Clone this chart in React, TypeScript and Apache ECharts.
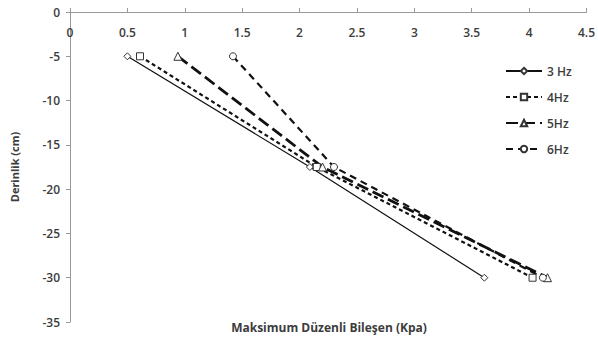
import React, { useEffect, useRef } from "react";
import * as echarts from "echarts";

const depths = [-5, -17.5, -30];
const hz3 = [0.5, 2.09, 3.61];
const hz4 = [0.61, 2.15, 4.03];
const hz5 = [0.94, 2.2, 4.16];
const hz6 = [1.42, 2.3, 4.12];
const seriesNames = ["3 Hz", "4Hz", "5Hz", "6Hz"];
const xTitle = "Maksimum Düzenli Bileşen (Kpa)";
const yTitle = "Derinlik (cm)";

const pair = (xs: number[]) => xs.map((x, i) => [x, depths[i]]);

export default function App() {
  const ref = useRef<HTMLDivElement>(null);
  useEffect(() => {
    if (!ref.current) return;
    const chart = echarts.init(ref.current, undefined, { renderer: "svg" });
    const font = "'Open Sans', 'Liberation Sans', sans-serif";
    const txt = "#3c3c3c";
    const mk = (name: string, data: number[], symbol: string, type: any, width: number) => ({
      name,
      type: "line",
      data: pair(data),
      symbol,
      symbolSize: symbol === "triangle" ? 8 : 7,
      showSymbol: true,
      lineStyle: { color: "#111", width, type },
      itemStyle: { color: "#fff", borderColor: "#333", borderWidth: 1 },
    });
    chart.setOption({
      animation: false,
      backgroundColor: "#fff",
      grid: { left: 70, right: 10, top: 12, bottom: 26 },
      legend: {
        orient: "vertical",
        left: 500,
        top: 60,
        itemWidth: 36,
        itemHeight: 8,
        itemGap: 14,
        data: seriesNames,
        textStyle: { color: txt, fontFamily: font, fontSize: 12, fontWeight: 600 },
      },
      xAxis: {
        type: "value",
        position: "top",
        min: 0,
        max: 4.5,
        interval: 0.5,
        splitLine: { show: false },
        axisLine: { lineStyle: { color: "#999" } },
        axisTick: { show: true, length: 4, lineStyle: { color: "#999" } },
        axisLabel: { inside: true, margin: 14, color: txt, fontFamily: font, fontSize: 12, fontWeight: 600 },
      },
      yAxis: {
        type: "value",
        min: -35,
        max: 0,
        interval: 5,
        name: yTitle,
        nameLocation: "middle",
        nameRotate: 90,
        nameGap: 50,
        nameTextStyle: { color: txt, fontFamily: font, fontSize: 11, fontWeight: "bold" },
        splitLine: { show: false },
        axisLine: { show: true, lineStyle: { color: "#999" } },
        axisTick: { show: true, length: 4, lineStyle: { color: "#999" } },
        axisLabel: { margin: 10, color: txt, fontFamily: font, fontSize: 12, fontWeight: 600 },
      },
      graphic: [
        {
          type: "text",
          x: 329,
          y: 327,
          style: {
            text: xTitle,
            fill: txt,
            font: `bold 12px ${font}`,
            align: "center",
            verticalAlign: "middle",
          },
        },
      ],
      series: [
        mk(seriesNames[0], hz3, "diamond", "solid", 1.2),
        mk(seriesNames[1], hz4, "rect", [4, 3], 2.2),
        mk(seriesNames[2], hz5, "triangle", [12, 5], 2.8),
        mk(seriesNames[3], hz6, "circle", [7, 5], 2.2),
      ],
    });
    return () => chart.dispose();
  }, []);
  return <div ref={ref} style={{ position: "fixed", left: 0, top: 0, width: 598, height: 348 }} />;
}
